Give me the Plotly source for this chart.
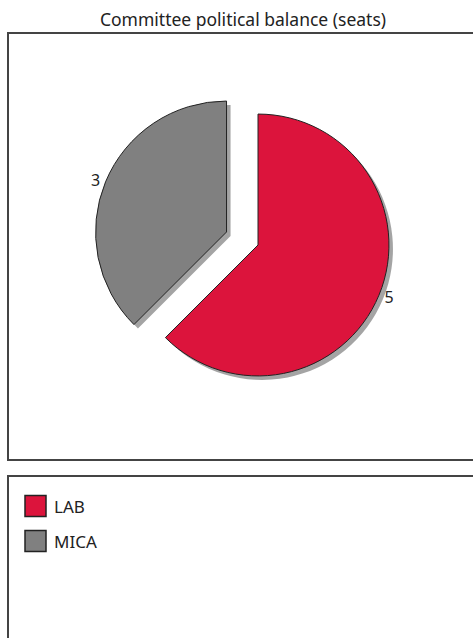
import plotly.graph_objects as go

# ---- data ----
parties = ["LAB", "MICA"]
seats = [5, 3]
party_colors = ["#DC143C", "#808080"]
pulls = [0, 0.26]
title_text = "Committee political balance (seats)"

W, H = 473, 638
FONT = "Noto Sans"


def px_x(p):
    return p / W


def px_y(p):
    return 1 - p / H


# pie box in pixels (square), center ~ (258,245)
box_l, box_r, box_t, box_b = 93, 423, 80, 410
sh = 4  # shadow offset px

fig = go.Figure()

# drop shadow
fig.add_trace(go.Pie(
    labels=parties, values=seats, sort=False, direction="clockwise", rotation=0,
    pull=pulls, marker=dict(colors=["rgba(90,90,90,0.55)"] * len(parties), line=dict(width=0)),
    textinfo="none", hoverinfo="skip", showlegend=False,
    domain=dict(x=[px_x(box_l + sh), px_x(box_r + sh)], y=[px_y(box_b + sh), px_y(box_t + sh)]),
))

fig.add_trace(go.Pie(
    labels=parties, values=seats, sort=False, direction="clockwise", rotation=0,
    pull=pulls, marker=dict(colors=party_colors, line=dict(color="#222222", width=1)),
    textinfo="value", textposition="outside",
    outsidetextfont=dict(family=FONT, size=16, color="#222222"),
    showlegend=False,
    domain=dict(x=[px_x(box_l), px_x(box_r)], y=[px_y(box_b), px_y(box_t)]),
))

shapes = [
    # chart frame
    dict(type="rect", xref="paper", yref="paper", x0=px_x(8), x1=px_x(490), y0=px_y(460), y1=px_y(33),
         line=dict(color="#444444", width=2), fillcolor="rgba(0,0,0,0)", layer="below"),
    # legend frame
    dict(type="rect", xref="paper", yref="paper", x0=px_x(8), x1=px_x(490), y0=px_y(660), y1=px_y(476),
         line=dict(color="#444444", width=2), fillcolor="rgba(0,0,0,0)", layer="below"),
]
annotations = []
for i, (name, col) in enumerate(zip(parties, party_colors)):
    yc = 506 + i * 35
    shapes.append(dict(type="rect", xref="paper", yref="paper",
                       x0=px_x(25), x1=px_x(46), y0=px_y(yc + 10.5), y1=px_y(yc - 10.5),
                       fillcolor=col, line=dict(color="#222222", width=1.5)))
    annotations.append(dict(text=name, xref="paper", yref="paper", x=px_x(52), y=px_y(yc),
                            xanchor="left", yanchor="middle", showarrow=False,
                            font=dict(family=FONT, size=17, color="#222222")))

fig.update_layout(
    width=W, height=H,
    margin=dict(l=0, r=0, t=0, b=0),
    paper_bgcolor="white", plot_bgcolor="white",
    title=dict(text=title_text, x=243 / W, xanchor="center", y=1 - 20 / H, yanchor="middle",
               yref="container", font=dict(family=FONT, size=17.5, color="#222222")),
    shapes=shapes, annotations=annotations,
    showlegend=False,
)

fig.write_html(
    "out.html",
    config={"displayModeBar": False},
    post_script="document.body.style.margin='0';document.body.style.overflow='hidden';"
                "document.documentElement.style.overflow='hidden';",
)
